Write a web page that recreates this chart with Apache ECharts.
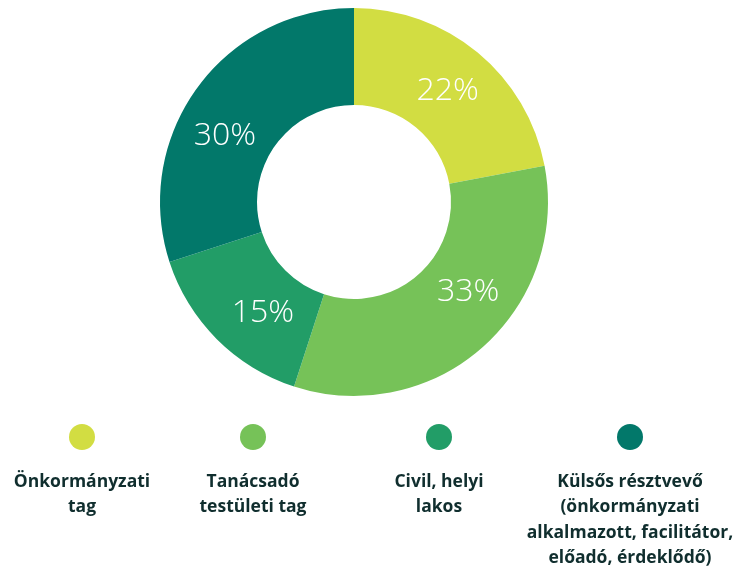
<!DOCTYPE html>
<html>
<head>
<meta charset="utf-8">
<script src="https://cdn.jsdelivr.net/npm/echarts@6/dist/echarts.min.js"></script>
<style>html,body{margin:0;padding:0;background:#fff}#c{width:736px;height:568px}</style>
</head>
<body>
<div id="c"></div>
<script>
const categories = [
  'Önkormányzati\ntag',
  'Tanácsadó\ntestületi tag',
  'Civil, helyi\nlakos',
  'Külsős résztvevő\n(önkormányzati\nalkalmazott, facilitátor,\nelőadó, érdeklődő)'
];
const values = [22, 33, 15, 30];
const colors = ['#d2dd42', '#76c258', '#229d67', '#02786a'];

// label nudges (style only)
const labelOffsets = [[-1, 3], [16, -22], [14, 6], [-9, 21]];
const legendX = [82, 253, 439, 630];
const chart = echarts.init(document.getElementById('c'));
const graphic = [];
categories.forEach((name, i) => {
  graphic.push({
    type: 'circle', shape: { cx: legendX[i], cy: 437, r: 13 },
    style: { fill: colors[i] }
  });
  graphic.push({
    type: 'text', x: legendX[i], y: 469,
    style: {
      text: name, fill: '#102e2e', font: 'bold 17.5px "Open Sans", Lato, sans-serif',
      align: 'center', verticalAlign: 'top', lineHeight: 25.5
    }
  });
});
chart.setOption({
  animation: false,
  graphic: graphic,
  series: [{
    type: 'pie',
    center: [354, 202],
    radius: [97, 194],
    startAngle: 90,
    clockwise: true,
    data: categories.map((n, i) => ({
      name: n, value: values[i], itemStyle: { color: colors[i] },
      label: { offset: labelOffsets[i] }
    })),
    label: {
      show: true, position: 'inside',
      formatter: p => p.value + '%',
      color: '#ffffff', fontSize: 32, fontWeight: 300,
      fontFamily: '"Open Sans", sans-serif'
    },
    labelLine: { show: false },
    itemStyle: { borderWidth: 0 }
  }]
});
</script>
</body>
</html>
